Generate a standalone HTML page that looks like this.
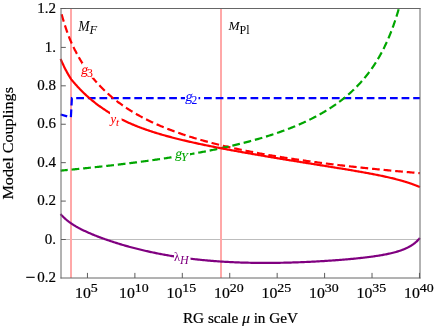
<!DOCTYPE html>
<html><head><meta charset="utf-8">
<style>
html,body{margin:0;padding:0;background:#fff;}
svg{display:block;will-change:transform;}
text{font-family:"Liberation Serif",serif;}
</style></head><body>
<svg width="436" height="328" viewBox="0 0 436 328">
<rect width="436" height="328" fill="#fff"/>
<line x1="61.0" y1="239.5" x2="420.0" y2="239.5" stroke="#bdbdbd" stroke-width="1"/>
<line x1="71.0" y1="8.5" x2="71.0" y2="278.0" stroke="#ffa8a8" stroke-width="2"/>
<line x1="221" y1="8.5" x2="221" y2="278.0" stroke="#ffa8a8" stroke-width="2"/>
<g fill="none" stroke-width="2.2" stroke-linejoin="round">
<path d="M60.6,114.45 L67.2,116.4" stroke="#0000ff"/>
<path d="M70.9,117.1 L71.9,98.2 L420.0,98.2" stroke="#0000ff" stroke-dasharray="7.75 3.87" stroke-linejoin="miter"/>
<path d="M61.35,13.25 L61.60,14.16 L61.85,15.06 L62.10,15.95 L62.35,16.83 L62.60,17.70 L62.85,18.56 L63.10,19.41 L63.35,20.25 L63.60,21.08 L63.85,21.90 L64.10,22.71 L64.35,23.51 L64.60,24.30 L64.85,25.09 L65.10,25.86 L65.35,26.63 L65.60,27.39 L65.85,28.14 L66.10,28.88 L66.35,29.62 L66.60,30.35 L66.85,31.07 L67.10,31.78 L67.35,32.49 L67.60,33.18 L67.85,33.88 L68.10,34.56 L68.35,35.24 L68.60,35.91 L68.85,36.57 L69.10,37.23 L69.35,37.88 L69.60,38.53 L69.85,39.11 L70.10,39.70 L70.35,40.28 L70.60,40.85 L70.85,41.42 L71.10,41.98 L71.35,42.54 L71.60,43.09 L71.85,43.64 L72.10,44.19 L72.35,44.73 L72.60,45.26 L72.85,45.79 L73.10,46.32 L73.35,46.84 L73.60,47.36 L73.85,47.87 L74.10,48.38 L74.35,48.89 L74.60,49.39 L74.85,49.89 L75.10,50.38 L75.35,50.87 L75.60,51.36 L75.85,51.84 L76.10,52.32 L76.35,52.80 L76.60,53.27 L76.85,53.74 L77.10,54.20 L77.35,54.66 L77.60,55.12 L77.85,55.57 L78.10,56.03 L78.35,56.47 L78.60,56.92 L78.85,57.36 L79.10,57.80 L79.35,58.23 L79.60,58.66 L79.85,59.09 L80.10,59.52 L80.35,59.94 L80.60,60.36 L80.85,60.78 L81.10,61.19 L81.35,61.60 L81.60,62.01 L81.85,62.41 L82.10,62.82 L82.35,63.22 L82.60,63.61 L82.85,64.01 L83.10,64.40 L83.35,64.79 L83.60,65.18 L83.85,65.56 L84.10,65.94 L84.35,66.32 L84.60,66.70 L84.85,67.07 L85.10,67.44 L85.35,67.81 L85.60,68.18 L85.85,68.54 L86.10,68.90 L86.35,69.26 L86.60,69.62 L86.85,69.98 L87.10,70.33 L87.35,70.68 L87.60,71.03 L87.85,71.38 L88.10,71.72 L88.35,72.06 L88.60,72.40 L88.85,72.74 L89.10,73.08 L89.35,73.41 L89.60,73.74 L89.85,74.07 L90.10,74.40 L90.35,74.73 L90.60,75.05 L90.85,75.37 L91.10,75.69 L91.35,76.01 L91.60,76.33 L91.85,76.64 L92.10,76.96 L92.35,77.27 L92.60,77.58 L92.85,77.89 L93.10,78.19 L93.35,78.50 L93.60,78.80 L93.85,79.10 L94.10,79.40 L94.35,79.70 L94.60,79.99 L94.85,80.28 L95.10,80.58 L95.35,80.87 L95.60,81.16 L95.85,81.45 L96.10,81.73 L96.35,82.02 L96.60,82.30 L96.85,82.58 L97.10,82.86 L97.35,83.14 L97.60,83.42 L97.85,83.69 L98.10,83.97 L98.35,84.24 L98.60,84.51 L98.85,84.78 L99.10,85.05 L99.35,85.31 L99.60,85.58 L99.85,85.84 L100,86 L101,87.04 L102,88.06 L103,89.06 L104,90.04 L105,91 L106,91.94 L107,92.87 L108,93.77 L109,94.66 L110,95.54 L111,96.40 L112,97.24 L113,98.07 L114,98.88 L115,99.68 L116,100.47 L117,101.25 L118,102.01 L119,102.75 L120,103.49 L121,104.22 L122,104.93 L123,105.63 L124,106.32 L125,107 L126,107.67 L127,108.33 L128,108.98 L129,109.62 L130,110.25 L131,110.87 L132,111.49 L133,112.09 L134,112.69 L135,113.27 L136,113.85 L137,114.42 L138,114.99 L139,115.54 L140,116.09 L141,116.63 L142,117.17 L143,117.70 L144,118.22 L145,118.73 L146,119.24 L147,119.74 L148,120.23 L149,120.72 L150,121.21 L151,121.68 L152,122.15 L153,122.62 L154,123.08 L155,123.53 L156,123.98 L157,124.43 L158,124.87 L159,125.30 L160,125.73 L161,126.15 L162,126.57 L163,126.99 L164,127.40 L165,127.80 L166,128.21 L167,128.60 L168,129 L169,129.38 L170,129.77 L171,130.15 L172,130.53 L173,130.90 L174,131.27 L175,131.63 L176,131.99 L177,132.35 L178,132.71 L179,133.06 L180,133.41 L181,133.75 L182,134.09 L183,134.43 L184,134.76 L185,135.09 L186,135.42 L187,135.74 L188,136.07 L189,136.39 L190,136.70 L191,137.01 L192,137.32 L193,137.63 L194,137.94 L195,138.24 L196,138.54 L197,138.83 L198,139.13 L199,139.42 L200,139.71 L201,139.99 L202,140.28 L203,140.56 L204,140.84 L205,141.11 L206,141.39 L207,141.66 L208,141.93 L209,142.20 L210,142.46 L211,142.73 L212,142.99 L213,143.25 L214,143.50 L215,143.76 L216,144.01 L217,144.26 L218,144.51 L219,144.76 L220,145 L221,145.24 L222,145.48 L223,145.72 L224,145.96 L225,146.20 L226,146.43 L227,146.66 L228,146.89 L229,147.12 L230,147.35 L231,147.57 L232,147.80 L233,148.02 L234,148.24 L235,148.46 L236,148.68 L237,148.89 L238,149.11 L239,149.32 L240,149.53 L241,149.74 L242,149.95 L243,150.15 L244,150.36 L245,150.56 L246,150.77 L247,150.97 L248,151.17 L249,151.37 L250,151.56 L251,151.76 L252,151.95 L253,152.15 L254,152.34 L255,152.53 L256,152.72 L257,152.91 L258,153.09 L259,153.28 L260,153.46 L261,153.65 L262,153.83 L263,154.01 L264,154.19 L265,154.37 L266,154.54 L267,154.72 L268,154.90 L269,155.07 L270,155.24 L271,155.42 L272,155.59 L273,155.76 L274,155.93 L275,156.09 L276,156.26 L277,156.43 L278,156.59 L279,156.75 L280,156.92 L281,157.08 L282,157.24 L283,157.40 L284,157.56 L285,157.72 L286,157.88 L287,158.03 L288,158.19 L289,158.34 L290,158.50 L291,158.65 L292,158.80 L293,158.95 L294,159.10 L295,159.25 L296,159.40 L297,159.55 L298,159.69 L299,159.84 L300,159.99 L301,160.13 L302,160.27 L303,160.42 L304,160.56 L305,160.70 L306,160.84 L307,160.98 L308,161.12 L309,161.26 L310,161.40 L311,161.53 L312,161.67 L313,161.81 L314,161.94 L315,162.07 L316,162.21 L317,162.34 L318,162.47 L319,162.60 L320,162.73 L321,162.86 L322,162.99 L323,163.12 L324,163.25 L325,163.38 L326,163.50 L327,163.63 L328,163.76 L329,163.88 L330,164.01 L331,164.13 L332,164.25 L333,164.37 L334,164.50 L335,164.62 L336,164.74 L337,164.86 L338,164.98 L339,165.10 L340,165.22 L341,165.33 L342,165.45 L343,165.57 L344,165.68 L345,165.80 L346,165.91 L347,166.03 L348,166.14 L349,166.26 L350,166.37 L351,166.48 L352,166.59 L353,166.70 L354,166.81 L355,166.92 L356,167.03 L357,167.14 L358,167.25 L359,167.36 L360,167.47 L361,167.58 L362,167.68 L363,167.79 L364,167.89 L365,168 L366,168.11 L367,168.21 L368,168.31 L369,168.42 L370,168.52 L371,168.62 L372,168.73 L373,168.83 L374,168.93 L375,169.03 L376,169.13 L377,169.23 L378,169.33 L379,169.43 L380,169.53 L381,169.63 L382,169.72 L383,169.82 L384,169.92 L385,170.02 L386,170.11 L387,170.21 L388,170.30 L389,170.40 L390,170.49 L391,170.59 L392,170.68 L393,170.77 L394,170.87 L395,170.96 L396,171.05 L397,171.14 L398,171.24 L399,171.33 L400,171.42 L401,171.51 L402,171.60 L403,171.69 L404,171.78 L405,171.87 L406,171.96 L407,172.04 L408,172.13 L409,172.22 L410,172.31 L411,172.39 L412,172.48 L413,172.57 L414,172.65 L415,172.74 L416,172.83 L417,172.91 L418,172.99 L419,173.08 L419.90,173.15" stroke="#ff0000" stroke-dasharray="7.75 3.87" stroke-dashoffset="10.624116419523343"/>
<path d="M60.60,170.62 L61.60,170.53 L62.60,170.43 L63.60,170.34 L64.60,170.25 L65.60,170.15 L66.60,170.06 L67.60,169.96 L68.60,169.87 L69.60,169.77 L70.60,169.68 L71.60,169.58 L72.60,169.48 L73.60,169.39 L74.60,169.29 L75.60,169.19 L76.60,169.09 L77.60,168.99 L78.60,168.89 L79.60,168.79 L80.60,168.69 L81.60,168.59 L82.60,168.49 L83.60,168.39 L84.60,168.29 L85.60,168.19 L86.60,168.08 L87.60,167.98 L88.60,167.88 L89.60,167.77 L90.60,167.67 L91.60,167.56 L92.60,167.46 L93.60,167.35 L94.60,167.25 L95.60,167.14 L96.60,167.03 L97.60,166.93 L98.60,166.82 L99.60,166.71 L100.60,166.60 L101.60,166.49 L102.60,166.38 L103.60,166.27 L104.60,166.16 L105.60,166.05 L106.60,165.93 L107.60,165.82 L108.60,165.71 L109.60,165.59 L110.60,165.48 L111.60,165.36 L112.60,165.25 L113.60,165.13 L114.60,165.02 L115.60,164.90 L116.60,164.78 L117.60,164.66 L118.60,164.54 L119.60,164.42 L120.60,164.30 L121.60,164.18 L122.60,164.06 L123.60,163.94 L124.60,163.82 L125.60,163.70 L126.60,163.57 L127.60,163.45 L128.60,163.32 L129.60,163.20 L130.60,163.07 L131.60,162.95 L132.60,162.82 L133.60,162.69 L134.60,162.56 L135.60,162.43 L136.60,162.30 L137.60,162.17 L138.60,162.04 L139.60,161.91 L140.60,161.78 L141.60,161.64 L142.60,161.51 L143.60,161.38 L144.60,161.24 L145.60,161.10 L146.60,160.97 L147.60,160.83 L148.60,160.69 L149.60,160.55 L150.60,160.41 L151.60,160.27 L152.60,160.13 L153.60,159.99 L154.60,159.85 L155.60,159.70 L156.60,159.56 L157.60,159.42 L158.60,159.27 L159.60,159.12 L160.60,158.98 L161.60,158.83 L162.60,158.68 L163.60,158.53 L164.60,158.38 L165.60,158.23 L166.60,158.07 L167.60,157.92 L168.60,157.77 L169.60,157.61 L170.60,157.46 L171.60,157.30 L172.60,157.14 L173.60,156.98 L174.60,156.82 L175.60,156.66 L176.60,156.50 L177.60,156.34 L178.60,156.18 L179.60,156.01 L180.60,155.85 L181.60,155.68 L182.60,155.51 L183.60,155.34 L184.60,155.17 L185.60,155 L186.60,154.83 L187.60,154.66 L188.60,154.49 L189.60,154.31 L190.60,154.14 L191.60,153.96 L192.60,153.78 L193.60,153.60 L194.60,153.42 L195.60,153.24 L196.60,153.06 L197.60,152.88 L198.60,152.69 L199.60,152.50 L200.60,152.32 L201.60,152.13 L202.60,151.94 L203.60,151.75 L204.60,151.56 L205.60,151.36 L206.60,151.17 L207.60,150.97 L208.60,150.77 L209.60,150.58 L210.60,150.38 L211.60,150.17 L212.60,149.97 L213.60,149.77 L214.60,149.56 L215.60,149.35 L216.60,149.15 L217.60,148.94 L218.60,148.73 L219.60,148.51 L220.60,148.30 L221.60,148.08 L222.60,147.86 L223.60,147.65 L224.60,147.42 L225.60,147.20 L226.60,146.98 L227.60,146.75 L228.60,146.53 L229.60,146.30 L230.60,146.07 L231.60,145.83 L232.60,145.60 L233.60,145.36 L234.60,145.13 L235.60,144.89 L236.60,144.65 L237.60,144.40 L238.60,144.16 L239.60,143.91 L240.60,143.66 L241.60,143.41 L242.60,143.16 L243.60,142.90 L244.60,142.65 L245.60,142.39 L246.60,142.13 L247.60,141.86 L248.60,141.60 L249.60,141.33 L250.60,141.06 L251.60,140.79 L252.60,140.52 L253.60,140.24 L254.60,139.96 L255.60,139.68 L256.60,139.40 L257.60,139.11 L258.60,138.82 L259.60,138.53 L260.60,138.24 L261.60,137.94 L262.60,137.64 L263.60,137.34 L264.60,137.04 L265.60,136.73 L266.60,136.42 L267.60,136.11 L268.60,135.79 L269.60,135.47 L270.60,135.15 L271.60,134.83 L272.60,134.50 L273.60,134.17 L274.60,133.84 L275.60,133.50 L276.60,133.16 L277.60,132.81 L278.60,132.47 L279.60,132.12 L280.60,131.76 L281.60,131.41 L282.60,131.05 L283.60,130.68 L284.60,130.31 L285.60,129.94 L286.60,129.57 L287.60,129.19 L288.60,128.80 L289.60,128.42 L290.60,128.02 L291.60,127.63 L292.60,127.23 L293.60,126.82 L294.60,126.41 L295.60,126 L296.60,125.58 L297.60,125.16 L298.60,124.73 L299.60,124.30 L300,124.12 L300.25,124.02 L300.50,123.91 L300.75,123.80 L301,123.69 L301.25,123.57 L301.50,123.46 L301.75,123.35 L302,123.24 L302.25,123.13 L302.50,123.02 L302.75,122.90 L303,122.79 L303.25,122.68 L303.50,122.56 L303.75,122.45 L304,122.34 L304.25,122.22 L304.50,122.11 L304.75,121.99 L305,121.88 L305.25,121.76 L305.50,121.64 L305.75,121.53 L306,121.41 L306.25,121.29 L306.50,121.18 L306.75,121.06 L307,120.94 L307.25,120.82 L307.50,120.70 L307.75,120.58 L308,120.46 L308.25,120.34 L308.50,120.22 L308.75,120.10 L309,119.98 L309.25,119.86 L309.50,119.74 L309.75,119.61 L310,119.49 L310.25,119.37 L310.50,119.24 L310.75,119.12 L311,119 L311.25,118.87 L311.50,118.75 L311.75,118.62 L312,118.49 L312.25,118.37 L312.50,118.24 L312.75,118.11 L313,117.99 L313.25,117.86 L313.50,117.73 L313.75,117.60 L314,117.47 L314.25,117.34 L314.50,117.21 L314.75,117.08 L315,116.95 L315.25,116.82 L315.50,116.69 L315.75,116.56 L316,116.42 L316.25,116.29 L316.50,116.16 L316.75,116.02 L317,115.89 L317.25,115.76 L317.50,115.62 L317.75,115.49 L318,115.35 L318.25,115.21 L318.50,115.08 L318.75,114.94 L319,114.80 L319.25,114.66 L319.50,114.52 L319.75,114.39 L320,114.25 L320.25,114.11 L320.50,113.96 L320.75,113.82 L321,113.68 L321.25,113.54 L321.50,113.40 L321.75,113.25 L322,113.11 L322.25,112.97 L322.50,112.82 L322.75,112.68 L323,112.53 L323.25,112.39 L323.50,112.24 L323.75,112.09 L324,111.95 L324.25,111.80 L324.50,111.65 L324.75,111.50 L325,111.35 L325.25,111.20 L325.50,111.05 L325.75,110.90 L326,110.75 L326.25,110.59 L326.50,110.44 L326.75,110.29 L327,110.13 L327.25,109.98 L327.50,109.83 L327.75,109.67 L328,109.51 L328.25,109.36 L328.50,109.20 L328.75,109.04 L329,108.88 L329.25,108.72 L329.50,108.57 L329.75,108.40 L330,108.24 L330.25,108.08 L330.50,107.92 L330.75,107.76 L331,107.60 L331.25,107.43 L331.50,107.27 L331.75,107.10 L332,106.94 L332.25,106.77 L332.50,106.60 L332.75,106.44 L333,106.27 L333.25,106.10 L333.50,105.93 L333.75,105.76 L334,105.59 L334.25,105.42 L334.50,105.25 L334.75,105.07 L335,104.90 L335.25,104.73 L335.50,104.55 L335.75,104.38 L336,104.20 L336.25,104.02 L336.50,103.85 L336.75,103.67 L337,103.49 L337.25,103.31 L337.50,103.13 L337.75,102.95 L338,102.77 L338.25,102.58 L338.50,102.40 L338.75,102.22 L339,102.03 L339.25,101.85 L339.50,101.66 L339.75,101.47 L340,101.28 L340.25,101.10 L340.50,100.91 L340.75,100.72 L341,100.53 L341.25,100.33 L341.50,100.14 L341.75,99.95 L342,99.75 L342.25,99.56 L342.50,99.36 L342.75,99.17 L343,98.97 L343.25,98.77 L343.50,98.57 L343.75,98.37 L344,98.17 L344.25,97.97 L344.50,97.77 L344.75,97.57 L345,97.36 L345.25,97.16 L345.50,96.95 L345.75,96.74 L346,96.54 L346.25,96.33 L346.50,96.12 L346.75,95.91 L347,95.70 L347.25,95.48 L347.50,95.27 L347.75,95.06 L348,94.84 L348.25,94.62 L348.50,94.41 L348.75,94.19 L349,93.97 L349.25,93.75 L349.50,93.53 L349.75,93.31 L350,93.08 L350.25,92.86 L350.50,92.63 L350.75,92.41 L351,92.18 L351.25,91.95 L351.50,91.72 L351.75,91.49 L352,91.26 L352.25,91.03 L352.50,90.79 L352.75,90.56 L353,90.32 L353.25,90.08 L353.50,89.85 L353.75,89.61 L354,89.36 L354.25,89.12 L354.50,88.88 L354.75,88.64 L355,88.39 L355.25,88.14 L355.50,87.90 L355.75,87.65 L356,87.40 L356.25,87.14 L356.50,86.89 L356.75,86.64 L357,86.38 L357.25,86.13 L357.50,85.87 L357.75,85.61 L358,85.35 L358.25,85.09 L358.50,84.82 L358.75,84.56 L359,84.29 L359.25,84.03 L359.50,83.76 L359.75,83.49 L360,83.22 L360.25,82.94 L360.50,82.67 L360.75,82.39 L361,82.11 L361.25,81.84 L361.50,81.56 L361.75,81.27 L362,80.99 L362.25,80.71 L362.50,80.42 L362.75,80.13 L363,79.84 L363.25,79.55 L363.50,79.26 L363.75,78.96 L364,78.67 L364.25,78.37 L364.50,78.07 L364.75,77.77 L365,77.47 L365.25,77.16 L365.50,76.86 L365.75,76.55 L366,76.24 L366.25,75.93 L366.50,75.61 L366.75,75.30 L367,74.98 L367.25,74.66 L367.50,74.34 L367.75,74.02 L368,73.70 L368.25,73.37 L368.50,73.04 L368.75,72.71 L369,72.38 L369.25,72.05 L369.50,71.71 L369.75,71.37 L370,71.03 L370.25,70.69 L370.50,70.35 L370.75,70 L371,69.65 L371.25,69.30 L371.50,68.95 L371.75,68.59 L372,68.23 L372.25,67.87 L372.50,67.51 L372.75,67.15 L373,66.78 L373.25,66.41 L373.50,66.04 L373.75,65.67 L374,65.29 L374.25,64.91 L374.50,64.53 L374.75,64.15 L375,63.76 L375.25,63.37 L375.50,62.98 L375.75,62.59 L376,62.19 L376.25,61.79 L376.50,61.39 L376.75,60.98 L377,60.58 L377.25,60.17 L377.50,59.75 L377.75,59.34 L378,58.92 L378.25,58.50 L378.50,58.07 L378.75,57.64 L379,57.21 L379.25,56.78 L379.50,56.34 L379.75,55.90 L380,55.46 L380.25,55.01 L380.50,54.56 L380.75,54.11 L381,53.65 L381.25,53.19 L381.50,52.73 L381.75,52.26 L382,51.79 L382.25,51.32 L382.50,50.84 L382.75,50.36 L383,49.87 L383.25,49.38 L383.50,48.89 L383.75,48.39 L384,47.89 L384.25,47.39 L384.50,46.88 L384.75,46.37 L385,45.85 L385.25,45.33 L385.50,44.80 L385.75,44.27 L386,43.74 L386.25,43.20 L386.50,42.66 L386.75,42.11 L387,41.56 L387.25,41 L387.50,40.44 L387.75,39.88 L388,39.31 L388.25,38.73 L388.50,38.15 L388.75,37.56 L389,36.97 L389.25,36.38 L389.50,35.78 L389.75,35.17 L390,34.56 L390.25,33.94 L390.50,33.32 L390.75,32.69 L391,32.05 L391.25,31.41 L391.50,30.76 L391.75,30.11 L392,29.45 L392.25,28.79 L392.50,28.11 L392.75,27.43 L393,26.75 L393.25,26.06 L393.50,25.36 L393.75,24.65 L394,23.94 L394.25,23.22 L394.50,22.50 L394.75,21.76 L395,21.02 L395.25,20.27 L395.50,19.51 L395.75,18.75 L396,17.97 L396.25,17.19 L396.50,16.40 L396.75,15.61 L397,14.80 L397.25,13.98 L397.50,13.16 L397.75,12.32 L398,11.48 L398.25,10.63 L398.50,9.77 L398.75,8.90" stroke="#00a600" stroke-dasharray="7.75 3.87" stroke-dashoffset="0.6"/>
<path d="M60.60,59.02 L60.85,59.60 L61.10,60.17 L61.35,60.73 L61.60,61.29 L61.85,61.85 L62.10,62.40 L62.35,62.95 L62.60,63.49 L62.85,64.03 L63.10,64.56 L63.35,65.09 L63.60,65.62 L63.85,66.14 L64.10,66.65 L64.35,67.16 L64.60,67.66 L64.85,68.16 L65.10,68.66 L65.35,69.15 L65.60,69.64 L65.85,70.12 L66.10,70.59 L66.35,71.06 L66.60,71.53 L66.85,71.99 L67.10,72.45 L67.35,72.90 L67.60,73.35 L67.85,73.79 L68.10,74.23 L68.35,74.66 L68.60,75.09 L68.85,75.52 L69.10,75.94 L69.35,76.35 L69.60,76.76 L69.85,77.17 L70.10,77.57 L70.35,77.96 L70.60,78.35 L70.85,78.74 L71.10,79.12 L71.35,79.48 L71.60,79.78 L71.85,80.08 L72.10,80.39 L72.35,80.69 L72.60,80.99 L72.85,81.28 L73.10,81.58 L73.35,81.87 L73.60,82.17 L73.85,82.46 L74.10,82.75 L74.35,83.04 L74.60,83.33 L74.85,83.61 L75.10,83.90 L75.35,84.18 L75.60,84.46 L75.85,84.74 L76.10,85.02 L76.35,85.30 L76.60,85.58 L76.85,85.85 L77.10,86.13 L77.35,86.40 L77.60,86.67 L77.85,86.94 L78.10,87.21 L78.35,87.48 L78.60,87.75 L78.85,88.01 L79.10,88.28 L79.35,88.54 L79.60,88.80 L79.85,89.06 L80,89.22 L81,90.24 L82,91.25 L83,92.24 L84,93.21 L85,94.16 L86,95.09 L87,96.01 L88,96.91 L89,97.79 L90,98.65 L91,99.51 L92,100.34 L93,101.16 L94,101.97 L95,102.76 L96,103.53 L97,104.30 L98,105.04 L99,105.78 L100,106.50 L101,107.21 L102,107.91 L103,108.60 L104,109.27 L105,109.93 L106,110.58 L107,111.22 L108,111.85 L109,112.47 L110,113.07 L111,113.67 L112,114.26 L113,114.83 L114,115.40 L115,115.96 L116,116.51 L117,117.05 L118,117.58 L119,118.10 L120,118.62 L121,119.12 L122,119.62 L123,120.11 L124,120.60 L125,121.07 L126,121.54 L127,122 L128,122.46 L129,122.90 L130,123.34 L131,123.78 L132,124.21 L133,124.63 L134,125.04 L135,125.45 L136,125.86 L137,126.25 L138,126.65 L139,127.03 L140,127.42 L141,127.79 L142,128.16 L143,128.53 L144,128.89 L145,129.25 L146,129.60 L147,129.95 L148,130.29 L149,130.63 L150,130.97 L151,131.30 L152,131.63 L153,131.95 L154,132.27 L155,132.58 L156,132.89 L157,133.20 L158,133.51 L159,133.81 L160,134.11 L161,134.40 L162,134.69 L163,134.98 L164,135.27 L165,135.55 L166,135.83 L167,136.10 L168,136.38 L169,136.65 L170,136.92 L171,137.18 L172,137.45 L173,137.71 L174,137.97 L175,138.22 L176,138.48 L177,138.73 L178,138.98 L179,139.23 L180,139.47 L181,139.72 L182,139.96 L183,140.20 L184,140.44 L185,140.67 L186,140.91 L187,141.14 L188,141.37 L189,141.60 L190,141.83 L191,142.05 L192,142.28 L193,142.50 L194,142.72 L195,142.94 L196,143.16 L197,143.37 L198,143.59 L199,143.80 L200,144.02 L201,144.23 L202,144.44 L203,144.65 L204,144.86 L205,145.06 L206,145.27 L207,145.48 L208,145.68 L209,145.88 L210,146.08 L211,146.29 L212,146.49 L213,146.68 L214,146.88 L215,147.08 L216,147.28 L217,147.47 L218,147.67 L219,147.86 L220,148.05 L221,148.24 L222,148.44 L223,148.63 L224,148.82 L225,149.01 L226,149.19 L227,149.38 L228,149.57 L229,149.76 L230,149.94 L231,150.13 L232,150.31 L233,150.50 L234,150.68 L235,150.86 L236,151.04 L237,151.23 L238,151.41 L239,151.59 L240,151.77 L241,151.95 L242,152.13 L243,152.31 L244,152.48 L245,152.66 L246,152.84 L247,153.02 L248,153.19 L249,153.37 L250,153.54 L251,153.72 L252,153.89 L253,154.07 L254,154.24 L255,154.42 L256,154.59 L257,154.76 L258,154.93 L259,155.11 L260,155.28 L261,155.45 L262,155.62 L263,155.79 L264,155.96 L265,156.13 L266,156.30 L267,156.47 L268,156.64 L269,156.81 L270,156.98 L271,157.15 L272,157.31 L273,157.48 L274,157.65 L275,157.82 L276,157.98 L277,158.15 L278,158.32 L279,158.48 L280,158.65 L281,158.81 L282,158.98 L283,159.14 L284,159.31 L285,159.47 L286,159.64 L287,159.80 L288,159.97 L289,160.13 L290,160.29 L291,160.46 L292,160.62 L293,160.78 L294,160.95 L295,161.11 L296,161.27 L297,161.43 L298,161.60 L299,161.76 L300,161.92 L301,162.08 L302,162.24 L303,162.40 L304,162.57 L305,162.73 L306,162.89 L307,163.05 L308,163.21 L309,163.37 L310,163.53 L311,163.69 L312,163.85 L313,164.01 L314,164.18 L315,164.34 L316,164.50 L317,164.66 L318,164.82 L319,164.98 L320,165.14 L321,165.30 L322,165.46 L323,165.62 L324,165.78 L325,165.94 L326,166.10 L327,166.26 L328,166.42 L329,166.59 L330,166.75 L331,166.91 L332,167.07 L333,167.23 L334,167.39 L335,167.56 L336,167.72 L337,167.88 L338,168.04 L339,168.21 L340,168.37 L341,168.54 L342,168.70 L343,168.86 L344,169.03 L345,169.20 L346,169.36 L347,169.53 L348,169.69 L349,169.86 L350,170.03 L351,170.20 L352,170.37 L353,170.54 L354,170.71 L355,170.88 L356,171.05 L357,171.22 L358,171.40 L359,171.57 L360,171.75 L361,171.92 L362,172.10 L363,172.28 L364,172.46 L365,172.64 L366,172.82 L367,173.01 L368,173.19 L369,173.38 L370,173.56 L371,173.75 L372,173.94 L373,174.13 L374,174.33 L375,174.52 L376,174.72 L377,174.92 L378,175.12 L379,175.32 L380,175.53 L381,175.74 L382,175.95 L383,176.16 L384,176.37 L385,176.59 L386,176.81 L387,177.03 L388,177.26 L389,177.49 L390,177.72 L391,177.96 L392,178.19 L393,178.44 L394,178.68 L395,178.93 L396,179.19 L397,179.45 L398,179.71 L399,179.98 L400,180.25 L400.25,180.32 L400.50,180.39 L400.75,180.46 L401,180.53 L401.25,180.60 L401.50,180.67 L401.75,180.74 L402,180.81 L402.25,180.88 L402.50,180.96 L402.75,181.03 L403,181.10 L403.25,181.17 L403.50,181.25 L403.75,181.32 L404,181.40 L404.25,181.47 L404.50,181.55 L404.75,181.62 L405,181.70 L405.25,181.77 L405.50,181.85 L405.75,181.93 L406,182 L406.25,182.08 L406.50,182.16 L406.75,182.24 L407,182.32 L407.25,182.40 L407.50,182.48 L407.75,182.56 L408,182.64 L408.25,182.72 L408.50,182.80 L408.75,182.88 L409,182.96 L409.25,183.05 L409.50,183.13 L409.75,183.21 L410,183.30 L410.25,183.38 L410.50,183.47 L410.75,183.56 L411,183.64 L411.25,183.73 L411.50,183.82 L411.75,183.90 L412,183.99 L412.25,184.08 L412.50,184.17 L412.75,184.26 L413,184.35 L413.25,184.44 L413.50,184.53 L413.75,184.63 L414,184.72 L414.25,184.81 L414.50,184.91 L414.75,185 L415,185.10 L415.25,185.19 L415.50,185.29 L415.75,185.39 L416,185.48 L416.25,185.58 L416.50,185.68 L416.75,185.78 L417,185.88 L417.25,185.98 L417.50,186.08 L417.75,186.19 L418,186.29 L418.25,186.39 L418.50,186.50 L418.75,186.60 L419,186.71 L419.25,186.81 L419.50,186.92 L419.75,187.03 L419.90,187.09" stroke="#ff0000"/>
<path d="M60.60,214.07 L60.85,214.36 L61.10,214.64 L61.35,214.91 L61.60,215.19 L61.85,215.45 L62.10,215.72 L62.35,215.98 L62.60,216.24 L62.85,216.49 L63.10,216.74 L63.35,216.99 L63.60,217.23 L63.85,217.47 L64.10,217.71 L64.35,217.94 L64.60,218.18 L64.85,218.40 L65.10,218.63 L65.35,218.85 L65.60,219.07 L65.85,219.29 L66.10,219.50 L66.35,219.72 L66.60,219.93 L66.85,220.13 L67.10,220.34 L67.35,220.54 L67.60,220.74 L67.85,220.94 L68.10,221.13 L68.35,221.33 L68.60,221.52 L68.85,221.71 L69.10,221.90 L69.35,222.08 L69.60,222.27 L69.85,222.45 L70.10,222.63 L70.35,222.81 L70.60,222.98 L70.85,223.16 L71.10,223.33 L71.35,223.50 L71.60,223.67 L71.85,223.84 L72.10,224.01 L72.35,224.17 L72.60,224.34 L72.85,224.50 L73.10,224.66 L73.35,224.82 L73.60,224.98 L73.85,225.13 L74.10,225.29 L74.35,225.44 L74.60,225.60 L74.85,225.75 L75.10,225.90 L75.35,226.05 L75.60,226.20 L75.85,226.34 L76.10,226.49 L76.35,226.63 L76.60,226.78 L76.85,226.92 L77.10,227.06 L77.35,227.20 L77.60,227.34 L77.85,227.48 L78.10,227.62 L78.35,227.76 L78.60,227.89 L78.85,228.03 L79.10,228.16 L79.35,228.30 L79.60,228.43 L79.85,228.56 L80,228.64 L81,229.16 L82,229.66 L83,230.16 L84,230.64 L85,231.11 L86,231.58 L87,232.03 L88,232.48 L89,232.92 L90,233.36 L91,233.78 L92,234.20 L93,234.62 L94,235.03 L95,235.43 L96,235.82 L97,236.22 L98,236.60 L99,236.99 L100,237.36 L101,237.74 L102,238.10 L103,238.47 L104,238.83 L105,239.18 L106,239.54 L107,239.89 L108,240.23 L109,240.57 L110,240.91 L111,241.24 L112,241.57 L113,241.90 L114,242.22 L115,242.54 L116,242.86 L117,243.17 L118,243.48 L119,243.79 L120,244.09 L121,244.39 L122,244.69 L123,244.99 L124,245.28 L125,245.57 L126,245.85 L127,246.13 L128,246.41 L129,246.69 L130,246.96 L131,247.24 L132,247.50 L133,247.77 L134,248.03 L135,248.29 L136,248.55 L137,248.80 L138,249.05 L139,249.30 L140,249.55 L141,249.79 L142,250.03 L143,250.27 L144,250.50 L145,250.73 L146,250.96 L147,251.19 L148,251.41 L149,251.64 L150,251.85 L151,252.07 L152,252.28 L153,252.50 L154,252.70 L155,252.91 L156,253.11 L157,253.32 L158,253.51 L159,253.71 L160,253.90 L161,254.10 L162,254.28 L163,254.47 L164,254.65 L165,254.84 L166,255.02 L167,255.19 L168,255.37 L169,255.54 L170,255.71 L171,255.88 L172,256.04 L173,256.20 L174,256.36 L175,256.52 L176,256.68 L177,256.83 L178,256.98 L179,257.13 L180,257.28 L181,257.42 L182,257.57 L183,257.71 L184,257.85 L185,257.98 L186,258.12 L187,258.25 L188,258.38 L189,258.50 L190,258.63 L191,258.75 L192,258.87 L193,258.99 L194,259.11 L195,259.23 L196,259.34 L197,259.45 L198,259.56 L199,259.67 L200,259.77 L201,259.88 L202,259.98 L203,260.08 L204,260.17 L205,260.27 L206,260.36 L207,260.45 L208,260.54 L209,260.63 L210,260.72 L211,260.80 L212,260.88 L213,260.96 L214,261.04 L215,261.12 L216,261.20 L217,261.27 L218,261.34 L219,261.41 L220,261.48 L221,261.54 L222,261.61 L223,261.67 L224,261.73 L225,261.79 L226,261.85 L227,261.91 L228,261.96 L229,262.01 L230,262.07 L231,262.12 L232,262.16 L233,262.21 L234,262.25 L235,262.30 L236,262.34 L237,262.38 L238,262.42 L239,262.46 L240,262.49 L241,262.53 L242,262.56 L243,262.59 L244,262.62 L245,262.65 L246,262.67 L247,262.70 L248,262.72 L249,262.75 L250,262.77 L251,262.79 L252,262.80 L253,262.82 L254,262.84 L255,262.85 L256,262.86 L257,262.87 L258,262.88 L259,262.89 L260,262.90 L261,262.91 L262,262.91 L263,262.92 L264,262.92 L265,262.92 L266,262.92 L267,262.92 L268,262.91 L269,262.91 L270,262.91 L271,262.90 L272,262.89 L273,262.88 L274,262.87 L275,262.86 L276,262.85 L277,262.84 L278,262.82 L279,262.81 L280,262.79 L281,262.77 L282,262.75 L283,262.73 L284,262.71 L285,262.69 L286,262.67 L287,262.64 L288,262.62 L289,262.59 L290,262.56 L291,262.53 L292,262.50 L293,262.47 L294,262.44 L295,262.41 L296,262.37 L297,262.34 L298,262.30 L299,262.27 L300,262.23 L301,262.19 L302,262.15 L303,262.11 L304,262.07 L305,262.02 L306,261.98 L307,261.93 L308,261.89 L309,261.84 L310,261.79 L311,261.75 L312,261.70 L313,261.65 L314,261.59 L315,261.54 L316,261.49 L317,261.43 L318,261.38 L319,261.32 L320,261.26 L321,261.21 L322,261.15 L323,261.09 L324,261.03 L325,260.96 L326,260.90 L327,260.84 L328,260.77 L329,260.70 L330,260.64 L331,260.57 L332,260.50 L333,260.43 L334,260.36 L335,260.28 L336,260.21 L337,260.14 L338,260.06 L339,259.98 L340,259.91 L341,259.83 L342,259.75 L343,259.66 L344,259.58 L345,259.50 L346,259.41 L347,259.33 L348,259.24 L349,259.15 L350,259.06 L351,258.96 L352,258.87 L353,258.78 L354,258.68 L355,258.58 L356,258.48 L357,258.38 L358,258.28 L359,258.17 L360,258.06 L361,257.95 L362,257.84 L363,257.73 L364,257.61 L365,257.50 L366,257.38 L367,257.26 L368,257.13 L369,257 L370,256.87 L371,256.74 L372,256.61 L373,256.47 L374,256.32 L375,256.18 L376,256.03 L377,255.88 L378,255.72 L379,255.56 L380,255.40 L381,255.23 L382,255.05 L383,254.87 L384,254.69 L385,254.50 L386,254.31 L387,254.10 L388,253.90 L389,253.68 L390,253.46 L391,253.23 L392,252.99 L393,252.74 L394,252.48 L395,252.22 L396,251.94 L397,251.65 L398,251.35 L399,251.03 L400,250.70 L400.25,250.62 L400.50,250.53 L400.75,250.44 L401,250.36 L401.25,250.27 L401.50,250.18 L401.75,250.09 L402,249.99 L402.25,249.90 L402.50,249.81 L402.75,249.71 L403,249.61 L403.25,249.52 L403.50,249.42 L403.75,249.32 L404,249.21 L404.25,249.11 L404.50,249.01 L404.75,248.90 L405,248.79 L405.25,248.69 L405.50,248.57 L405.75,248.46 L406,248.35 L406.25,248.24 L406.50,248.12 L406.75,248 L407,247.88 L407.25,247.76 L407.50,247.64 L407.75,247.51 L408,247.38 L408.25,247.26 L408.50,247.13 L408.75,246.99 L409,246.86 L409.25,246.72 L409.50,246.58 L409.75,246.44 L410,246.30 L410.25,246.15 L410.50,246 L410.75,245.85 L411,245.70 L411.25,245.55 L411.50,245.39 L411.75,245.23 L412,245.07 L412.25,244.90 L412.50,244.73 L412.75,244.56 L413,244.38 L413.25,244.21 L413.50,244.03 L413.75,243.84 L414,243.65 L414.25,243.46 L414.50,243.27 L414.75,243.07 L415,242.87 L415.25,242.66 L415.50,242.45 L415.75,242.24 L416,242.02 L416.25,241.80 L416.50,241.57 L416.75,241.34 L417,241.10 L417.25,240.86 L417.50,240.61 L417.75,240.36 L418,240.10 L418.25,239.84 L418.50,239.57 L418.75,239.30 L419,239.01 L419.25,238.73 L419.50,238.43 L419.75,238.13 L419.90,237.95" stroke="#800080"/>
</g>
<path d="M61.0,8.0 V278.5 M420.0,8.0 V278.5 M60.5,8.5 H420.5 M60.5,278.0 H420.5" fill="none" stroke="#666666" stroke-width="1"/>
<g stroke="#5c5c5c" stroke-width="1">
<line x1="61.0" y1="47.40" x2="65.8" y2="47.40"/>
<line x1="61.0" y1="85.82" x2="65.8" y2="85.82"/>
<line x1="61.0" y1="124.24" x2="65.8" y2="124.24"/>
<line x1="61.0" y1="162.66" x2="65.8" y2="162.66"/>
<line x1="61.0" y1="201.08" x2="65.8" y2="201.08"/>
<line x1="61.0" y1="239.50" x2="65.8" y2="239.50"/>
<line x1="61.0" y1="8.5" x2="65.8" y2="8.5"/>
<line x1="87.45" y1="278.0" x2="87.45" y2="272.9"/>
<line x1="134.88" y1="278.0" x2="134.88" y2="272.9"/>
<line x1="182.31" y1="278.0" x2="182.31" y2="272.9"/>
<line x1="229.74" y1="278.0" x2="229.74" y2="272.9"/>
<line x1="277.17" y1="278.0" x2="277.17" y2="272.9"/>
<line x1="324.60" y1="278.0" x2="324.60" y2="272.9"/>
<line x1="372.03" y1="278.0" x2="372.03" y2="272.9"/>
<line x1="419.46" y1="278.0" x2="419.46" y2="272.9"/>
</g>
<g fill="#000" stroke="#000" stroke-width="0.2">
<text transform="translate(56.10,13.18) scale(1.02,1)" font-size="14.7" text-anchor="end" >1.2</text>
<text transform="translate(56.10,51.60) scale(1.02,1)" font-size="14.7" text-anchor="end" >1.</text>
<text transform="translate(56.10,90.02) scale(1.02,1)" font-size="14.7" text-anchor="end" >0.8</text>
<text transform="translate(56.10,128.44) scale(1.02,1)" font-size="14.7" text-anchor="end" >0.6</text>
<text transform="translate(56.10,166.86) scale(1.02,1)" font-size="14.7" text-anchor="end" >0.4</text>
<text transform="translate(56.10,205.28) scale(1.02,1)" font-size="14.7" text-anchor="end" >0.2</text>
<text transform="translate(56.10,243.70) scale(1.02,1)" font-size="14.7" text-anchor="end" >0.</text>
<text transform="translate(56.10,282.12) scale(1.02,1)" font-size="14.7" text-anchor="end" >0.2</text>
<text transform="translate(25.40,283.20) scale(1.0,1)" font-size="17.5" text-anchor="start" >−</text>
<text transform="translate(86.35,297.50) scale(1.07,1)" font-size="14.8" text-anchor="middle" >10<tspan dy="-6.0" font-size="13.0">5</tspan></text>
<text transform="translate(133.85,297.50) scale(1.07,1)" font-size="14.8" text-anchor="middle" >10<tspan dy="-6.0" font-size="13.0">10</tspan></text>
<text transform="translate(181.35,297.50) scale(1.07,1)" font-size="14.8" text-anchor="middle" >10<tspan dy="-6.0" font-size="13.0">15</tspan></text>
<text transform="translate(228.85,297.50) scale(1.07,1)" font-size="14.8" text-anchor="middle" >10<tspan dy="-6.0" font-size="13.0">20</tspan></text>
<text transform="translate(276.35,297.50) scale(1.07,1)" font-size="14.8" text-anchor="middle" >10<tspan dy="-6.0" font-size="13.0">25</tspan></text>
<text transform="translate(323.85,297.50) scale(1.07,1)" font-size="14.8" text-anchor="middle" >10<tspan dy="-6.0" font-size="13.0">30</tspan></text>
<text transform="translate(371.35,297.50) scale(1.07,1)" font-size="14.8" text-anchor="middle" >10<tspan dy="-6.0" font-size="13.0">35</tspan></text>
<text transform="translate(418.85,297.50) scale(1.07,1)" font-size="14.8" text-anchor="middle" >10<tspan dy="-6.0" font-size="13.0">40</tspan></text>
<text transform="translate(240.50,322.60) scale(1.045,1)" font-size="14.6" text-anchor="middle" >RG scale <tspan font-style="italic">μ</tspan> in GeV</text>
<text transform="translate(13.3,143.25) rotate(-90) scale(1.105,1)" font-size="14.6" text-anchor="middle">Model Couplings</text>
</g>
<g font-style="italic">
<text transform="translate(78.20,30.80) scale(1.0,1)" font-size="13.6" text-anchor="start" >M<tspan dy="3.1" font-size="12.6">F</tspan></text>

<text transform="translate(228.40,30.00) scale(1.0,1)" font-size="13.3" text-anchor="start" >M<tspan dy="4.1" font-size="12" font-style="normal">Pl</tspan></text>

</g>
<g font-size="13" stroke-width="0.08">
<rect x="82.3" y="63" width="11.6" height="14.8" fill="#fff"/>
<text transform="translate(80.8,73.7) skewX(-9)" fill="#ff0000" stroke="#ff0000" font-size="13.6">g</text><text x="86.89999999999999" y="77.0" fill="#ff0000" stroke="#ff0000" font-size="11.8" font-style="normal">3</text>
<rect x="110" y="111" width="11.6" height="16" fill="#fff"/>
<text x="110.6" y="123.2" fill="#ff0000" stroke="#ff0000" font-style="italic" font-size="12.6">y</text><text x="116.1" y="126.0" fill="#ff0000" stroke="#ff0000" font-size="10.8" font-style="italic">t</text>
<rect x="185" y="91" width="13.5" height="14" fill="#fff"/>
<text transform="translate(184.9,100.9) skewX(-9)" fill="#0000ff" stroke="#0000ff" font-size="14.2">g</text><text x="191.5" y="103.5" fill="#0000ff" stroke="#0000ff" font-size="11.5" font-style="normal">2</text>
<rect x="174" y="148" width="16" height="14" fill="#fff"/>
<text transform="translate(174.8,157.7) skewX(-9)" fill="#00a600" stroke="#00a600" font-size="13.6">g</text><text x="181.0" y="161.2" fill="#00a600" stroke="#00a600" font-size="12.4" font-style="italic">Y</text>
<rect x="174" y="251" width="16.5" height="14" fill="#fff"/>
<text x="174.0" y="261.1" fill="#800080" font-size="12.4">λ</text><text x="180.0" y="263.8" fill="#800080" font-size="12" font-style="italic">H</text>
</g>
</svg>
</body></html>
